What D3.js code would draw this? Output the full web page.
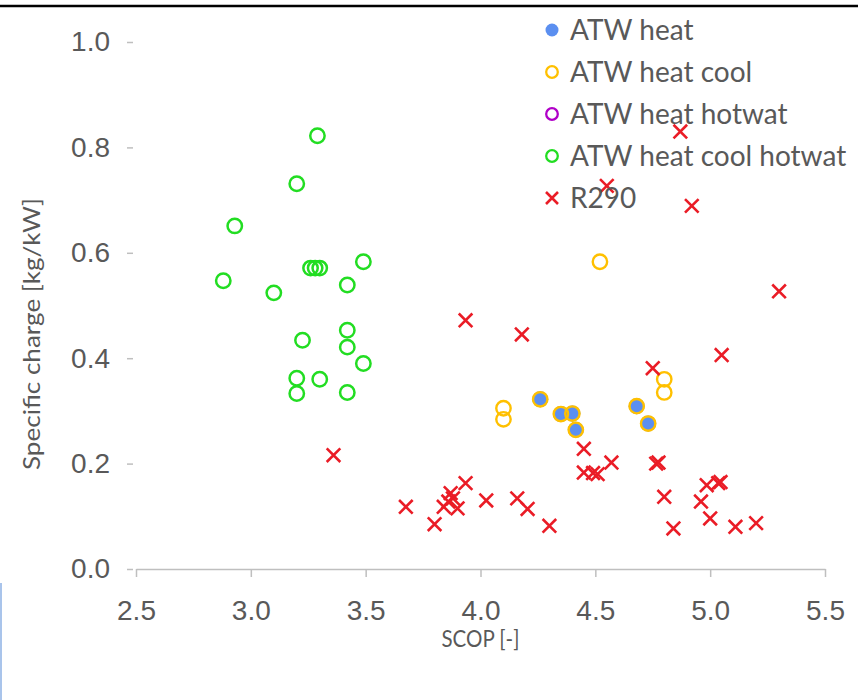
<!DOCTYPE html>
<html>
<head>
<meta charset="utf-8">
<title>Specific charge vs SCOP</title>
<style>
body, html {
  margin: 0;
  padding: 0;
  background: #fff;
}
svg {
  display: block;
  font-family: Lato, "Open Sans", sans-serif;
}
.axis text {
  fill: #595959;
  font-size: 28px;
}
.axis line, .axis path {
  stroke: #bfbfbf;
  stroke-width: 1.5px;
}
.title {
  fill: #595959;
  font-size: 24px;
}
.legend text {
  fill: #595959;
  font-size: 28px;
}
</style>
<script src="https://d3js.org/d3.v7.min.js"></script>
</head>
<body>
<script>

// [SCOP, specific charge]
var atwHeat = [[4.26,0.322],[4.35,0.294],[4.40,0.295],[4.415,0.264],[4.68,0.309],[4.73,0.276]];
var atwHeatCool = [[4.52,0.583],[4.10,0.305],[4.10,0.284],[4.80,0.360],[4.80,0.335],
  [4.26,0.322],[4.35,0.294],[4.40,0.295],[4.415,0.264],[4.68,0.309],[4.73,0.276]];
var atwHeatHotwat = [];
var atwHeatCoolHotwat = [[3.29,0.822],[3.20,0.731],[2.93,0.651],[2.88,0.547],[3.10,0.524],
  [3.26,0.571],[3.28,0.571],[3.30,0.571],[3.49,0.583],[3.42,0.539],[3.225,0.434],
  [3.42,0.453],[3.42,0.421],[3.49,0.390],[3.20,0.362],[3.20,0.333],[3.30,0.360],[3.42,0.335]];
var r290 = [[4.87,0.830],[4.55,0.727],[4.92,0.689],[5.30,0.527],[5.05,0.406],[4.75,0.381],
  [3.935,0.472],[4.18,0.445],[3.36,0.216],
  [4.45,0.228],[4.45,0.183],[4.49,0.182],[4.51,0.180],[4.57,0.202],[4.765,0.200],[4.775,0.202],
  [4.80,0.137],[4.84,0.077],
  [4.985,0.159],[5.035,0.163],[5.045,0.165],[4.96,0.128],[5.00,0.096],[5.11,0.080],[5.20,0.087],
  [3.675,0.118],[3.80,0.085],[3.84,0.118],[3.87,0.144],[3.88,0.134],[3.86,0.128],[3.90,0.115],
  [3.935,0.163],[4.025,0.130],[4.16,0.134],[4.205,0.114],[4.30,0.082]];

var seriesNames = ["ATW heat", "ATW heat cool", "ATW heat hotwat", "ATW heat cool hotwat", "R290"];
var xTicks = [2.5, 3.0, 3.5, 4.0, 4.5, 5.0, 5.5];
var yTicks = [0.0, 0.2, 0.4, 0.6, 0.8, 1.0];

var width = 858, height = 700;

var svg = d3.select("body").append("svg")
  .attr("width", width)
  .attr("height", height);

// frame bits from the original screenshot
svg.append("line")
  .attr("x1", 0).attr("x2", width).attr("y1", 6).attr("y2", 6)
  .attr("stroke", "#000").attr("stroke-width", 2.5);
svg.append("line")
  .attr("x1", 1).attr("x2", 1).attr("y1", 583).attr("y2", height)
  .attr("stroke", "#a9c4eb").attr("stroke-width", 2);

var x = d3.scaleLinear().domain([2.5, 5.5]).range([136, 825]);
var y = d3.scaleLinear().domain([0, 1]).range([569, 42]);

var yAxis = svg.append("g")
  .attr("class", "axis")
  .attr("transform", "translate(133,0)")
  .call(d3.axisLeft(y).tickValues(yTicks).tickFormat(d3.format(".1f"))
    .tickSizeInner(6).tickSizeOuter(0).tickPadding(17));
yAxis.select(".domain").remove();

svg.append("g")
  .attr("class", "axis")
  .attr("transform", "translate(0," + y(0) + ")")
  .call(d3.axisBottom(x).tickValues(xTicks).tickFormat(d3.format(".1f"))
    .tickSizeInner(8).tickSizeOuter(0).tickPadding(23));

svg.append("text")
  .attr("class", "title")
  .attr("x", x(4.0))
  .attr("y", 647)
  .attr("text-anchor", "middle")
  .attr("textLength", 78)
  .attr("lengthAdjust", "spacingAndGlyphs")
  .text("SCOP [-]");

svg.append("text")
  .attr("class", "title")
  .attr("transform", "translate(40,334) rotate(-90)")
  .attr("text-anchor", "middle")
  .attr("textLength", 272)
  .attr("lengthAdjust", "spacingAndGlyphs")
  .text("Specific charge [kg/kW]");

var blue = "#5b8ff0", gold = "#ffc000", purple = "#b000c8", green = "#22dd22", red = "#ea1c26";

function cross(g, s) {
  g.append("path")
    .attr("d", "M" + (-s) + "," + (-s) + "L" + s + "," + s + "M" + (-s) + "," + s + "L" + s + "," + (-s))
    .attr("stroke", red)
    .attr("stroke-width", 2.6)
    .attr("fill", "none");
}

var plot = svg.append("g");

plot.selectAll(".heat").data(atwHeat).join("circle")
  .attr("cx", d => x(d[0])).attr("cy", d => y(d[1]))
  .attr("r", 8).attr("fill", blue);

plot.selectAll(".hwat").data(atwHeatHotwat).join("circle")
  .attr("cx", d => x(d[0])).attr("cy", d => y(d[1]))
  .attr("r", 7).attr("fill", "none").attr("stroke", purple).attr("stroke-width", 2.4);

plot.selectAll(".chw").data(atwHeatCoolHotwat).join("circle")
  .attr("cx", d => x(d[0])).attr("cy", d => y(d[1]))
  .attr("r", 7.2).attr("fill", "none").attr("stroke", green).attr("stroke-width", 2.5);

plot.append("g").selectAll("circle").data(atwHeatCool).join("circle")
  .attr("cx", d => x(d[0])).attr("cy", d => y(d[1]))
  .attr("r", 7.2).attr("fill", "none").attr("stroke", gold).attr("stroke-width", 2.4);

plot.append("g").selectAll("g").data(r290).join("g")
  .attr("transform", d => "translate(" + x(d[0]) + "," + y(d[1]) + ")")
  .each(function() { cross(d3.select(this), 6.8); });

// legend
var legend = svg.append("g").attr("class", "legend");
var rows = legend.selectAll("g").data(seriesNames).join("g")
  .attr("transform", (d, i) => "translate(552," + (30 + i * 42) + ")");

rows.each(function(d, i) {
  var g = d3.select(this);
  if (i === 0) g.append("circle").attr("r", 6.5).attr("fill", blue);
  else if (i === 4) cross(g, 6);
  else g.append("circle").attr("r", 5.8).attr("fill", "none")
    .attr("stroke", [null, gold, purple, green][i]).attr("stroke-width", 2.3);
});

rows.append("text")
  .attr("x", 18)
  .attr("dy", "0.36em")
  .text(d => d);

</script>
</body>
</html>
